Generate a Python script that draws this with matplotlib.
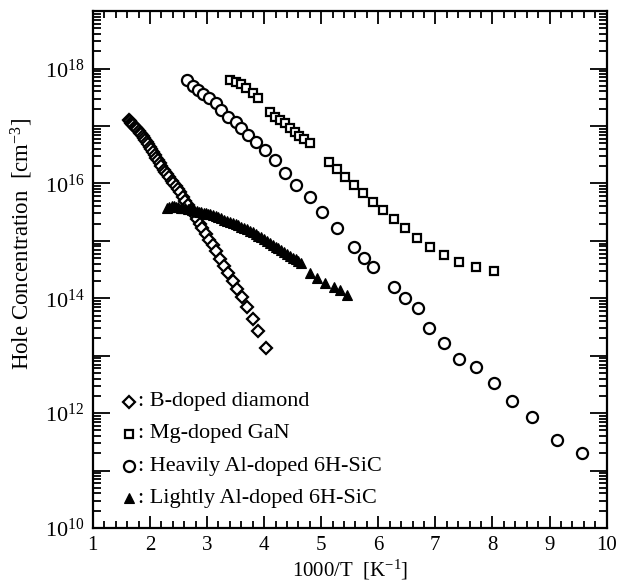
import math
import matplotlib
matplotlib.use("Agg")
import matplotlib.pyplot as plt
from matplotlib.ticker import LogLocator, FuncFormatter, MultipleLocator, NullFormatter

plt.rcParams['font.family'] = ['Liberation Serif', 'DejaVu Serif']
plt.rcParams['mathtext.fontset'] = 'custom'
plt.rcParams['mathtext.rm'] = 'Liberation Serif'
plt.rcParams['mathtext.it'] = 'Liberation Serif:italic'

# B-doped diamond (x = 1000/T, y = log10 hole concentration)
diamond_x = [1.63, 1.65, 1.67, 1.69, 1.71, 1.73, 1.75, 1.77, 1.80, 1.82, 1.84, 1.87, 1.89, 1.92,
             1.94, 1.97, 2.00, 2.02, 2.05, 2.08, 2.11, 2.14, 2.17, 2.20, 2.24, 2.27, 2.30, 2.34,
             2.38, 2.41, 2.45, 2.49, 2.53, 2.58, 2.62, 2.67, 2.72, 2.77, 2.82, 2.87, 2.92, 2.98,
             3.04, 3.10, 3.16, 3.23, 3.30, 3.37, 3.45, 3.53, 3.61, 3.70, 3.80, 3.90, 4.03]
diamond_logp = [17.11, 17.09, 17.06, 17.04, 17.01, 16.99, 16.97, 16.94, 16.91, 16.88, 16.86, 16.82, 16.80, 16.76,
                16.73, 16.68, 16.63, 16.60, 16.55, 16.50, 16.45, 16.40, 16.35, 16.30, 16.24, 16.20, 16.16, 16.11,
                16.05, 16.01, 15.96, 15.91, 15.85, 15.77, 15.70, 15.62, 15.54, 15.46, 15.38, 15.30, 15.22, 15.12,
                15.02, 14.92, 14.82, 14.69, 14.57, 14.44, 14.30, 14.16, 14.02, 13.85, 13.64, 13.43, 13.13]

# Mg-doped GaN
gan_x = [3.41, 3.51, 3.60, 3.69, 3.81, 3.89, 4.10, 4.19, 4.28, 4.36, 4.45, 4.54, 4.62, 4.70, 4.80,
         5.14, 5.28, 5.42, 5.58, 5.73, 5.90, 6.08, 6.27, 6.46, 6.68, 6.91, 7.15, 7.41, 7.71, 8.02]
gan_logp = [17.80, 17.76, 17.73, 17.66, 17.57, 17.48, 17.24, 17.15, 17.10, 17.05, 16.96, 16.89, 16.83, 16.78, 16.70,
            16.37, 16.25, 16.11, 15.97, 15.83, 15.67, 15.53, 15.38, 15.22, 15.05, 14.89, 14.75, 14.64, 14.54, 14.47]

# Heavily Al-doped 6H-SiC
sic_h_x = [2.65, 2.75, 2.84, 2.93, 3.03, 3.15, 3.25, 3.37, 3.50, 3.60, 3.72, 3.86, 4.02, 4.19, 4.36, 4.55,
           4.80, 5.02, 5.28, 5.58, 5.75, 5.90, 6.27, 6.46, 6.70, 6.89, 7.15, 7.41, 7.71, 8.02, 8.35, 8.69,
           9.13, 9.56]
sic_h_logp = [17.80, 17.70, 17.62, 17.55, 17.48, 17.40, 17.28, 17.15, 17.07, 16.96, 16.84, 16.72, 16.58, 16.40,
              16.18, 15.97, 15.76, 15.50, 15.22, 14.89, 14.71, 14.54, 14.19, 14.00, 13.83, 13.49, 13.22, 12.95,
              12.80, 12.52, 12.22, 11.93, 11.53, 11.30]

# Lightly Al-doped 6H-SiC
sic_l_x = [2.30, 2.34, 2.38, 2.42, 2.46, 2.50, 2.54, 2.58, 2.62, 2.66, 2.70, 2.74, 2.78, 2.82, 2.86, 2.90,
           2.94, 2.98, 3.02, 3.06, 3.10, 3.15, 3.20, 3.25, 3.30, 3.35, 3.40, 3.45, 3.50, 3.55, 3.60, 3.65,
           3.70, 3.75, 3.80, 3.85, 3.90, 3.95, 4.00, 4.05, 4.10, 4.15, 4.20, 4.25, 4.30, 4.35, 4.40, 4.45,
           4.50, 4.55, 4.60, 4.65, 4.81, 4.93, 5.07, 5.23, 5.33, 5.45]
sic_l_logp = [15.58, 15.59, 15.60, 15.60, 15.59, 15.59, 15.58, 15.58, 15.57, 15.56, 15.55, 15.54, 15.53, 15.52,
              15.51, 15.50, 15.49, 15.48, 15.47, 15.46, 15.45, 15.43, 15.41, 15.39, 15.37, 15.35, 15.33, 15.31,
              15.29, 15.27, 15.25, 15.22, 15.20, 15.17, 15.15, 15.12, 15.09, 15.06, 15.03, 15.00, 14.97, 14.93,
              14.90, 14.87, 14.84, 14.81, 14.78, 14.74, 14.71, 14.68, 14.65, 14.62, 14.44, 14.35, 14.26, 14.19,
              14.14, 14.05]

legend_labels = [": B-doped diamond", ": Mg-doped GaN", ": Heavily Al-doped 6H-SiC", ": Lightly Al-doped 6H-SiC"]


def tenpow(v):
    return [10.0 ** a for a in v]


fig = plt.figure(figsize=(6.19, 5.88), dpi=100)
ax = fig.add_axes([0.150, 0.102, 0.830, 0.879])

mew = 1.6
ax.plot(diamond_x, tenpow(diamond_logp), linestyle='none', marker='D', markersize=5.8,
        markerfacecolor='white', markeredgecolor='black', markeredgewidth=mew)
ax.plot(gan_x, tenpow(gan_logp), linestyle='none', marker='s', markersize=6.0,
        markerfacecolor='white', markeredgecolor='black', markeredgewidth=mew)
ax.plot(sic_h_x, tenpow(sic_h_logp), linestyle='none', marker='o', markersize=8.0,
        markerfacecolor='white', markeredgecolor='black', markeredgewidth=mew)
ax.plot(sic_l_x, tenpow(sic_l_logp), linestyle='none', marker='^', markersize=7.0,
        markerfacecolor='black', markeredgecolor='black', markeredgewidth=0.8)

ax.set_yscale('log')
ax.set_xlim(1, 10)
ax.set_ylim(1e10, 1e19)

ax.xaxis.set_major_locator(MultipleLocator(1))
ax.xaxis.set_minor_locator(MultipleLocator(0.2))
ax.yaxis.set_major_locator(LogLocator(base=10, numticks=30))
ax.yaxis.set_minor_locator(LogLocator(base=10, subs=[2, 3, 4, 5, 6, 7, 8, 9], numticks=30))
ax.yaxis.set_minor_formatter(NullFormatter())


def yfmt(v, pos):
    e = int(round(math.log10(v)))
    if e % 2 == 0:
        return r'$\mathdefault{10^{%d}}$' % e
    return ''


ax.yaxis.set_major_formatter(FuncFormatter(yfmt))

ax.tick_params(axis='both', which='both', direction='in', top=True, right=True, width=1.3)
ax.tick_params(axis='y', which='major', length=12, pad=6, labelsize=16)
ax.tick_params(axis='y', which='minor', length=6)
ax.tick_params(axis='x', which='major', length=9, pad=6, labelsize=15)
ax.tick_params(axis='x', which='minor', length=5)
for s in ax.spines.values():
    s.set_linewidth(1.6)

ax.set_xlabel(r'1000/T  [K$^{-1}$]', fontsize=15, labelpad=2)
ax.set_ylabel(r'Hole Concentration  [cm$^{-3}$]', fontsize=16.5)
ax.yaxis.set_label_coords(-0.112, 0.55)

# legend drawn as markers + text
markers = [('D', 5.8, 'white'), ('s', 6.0, 'white'), ('o', 8.0, 'white'), ('^', 7.0, 'black')]
rows_y = [0.244, 0.182, 0.120, 0.058]
for (m, ms, fc), yy, lab in zip(markers, rows_y, legend_labels):
    ax.plot([0.071], [yy], transform=ax.transAxes, linestyle='none', marker=m, markersize=ms,
            markerfacecolor=fc, markeredgecolor='black', markeredgewidth=mew if fc == 'white' else 0.8,
            clip_on=False)
    ax.text(0.088, yy, lab, transform=ax.transAxes, fontsize=16, va='center', ha='left')

fig.savefig('out.png', dpi=100)
